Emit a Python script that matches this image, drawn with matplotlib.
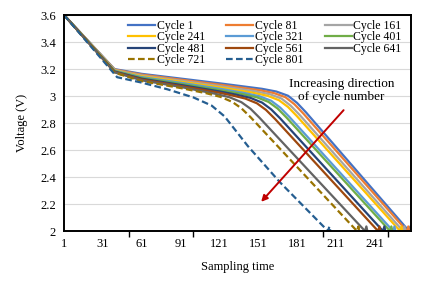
import matplotlib
matplotlib.use("Agg")
import matplotlib.pyplot as plt

# data (key points of each discharge curve)
labels = ["Cycle 1", "Cycle 81", "Cycle 161", "Cycle 241", "Cycle 321", "Cycle 401",
          "Cycle 481", "Cycle 561", "Cycle 641", "Cycle 721", "Cycle 801"]
colors = ["#4472C4", "#ED7D31", "#A5A5A5", "#FFC000", "#5B9BD5", "#70AD47",
          "#264478", "#9E480E", "#636363", "#997300", "#255E91"]
styles = ["-"] * 9 + ["--", "--"]

xs = [
    [1, 40, 61, 91, 121, 154, 165, 174, 181, 188, 267.6, 268.6, 269.6],
    [1, 40, 61, 91, 121, 152, 163, 172, 179, 186, 266.0, 267.0, 268.0],
    [1, 40, 61, 91, 121, 149, 160, 169, 176, 183, 263.0, 264.0, 265.0],
    [1, 40, 61, 91, 121, 147, 158, 167, 174, 181, 260.7, 261.7, 262.7],
    [1, 40, 61, 91, 121, 141, 152, 161, 168, 175, 255.3, 256.3, 257.3],
    [1, 40, 61, 91, 121, 139, 150, 159, 166, 173, 252.9, 253.9, 254.9],
    [1, 40, 61, 91, 121, 134, 145, 154, 161, 168, 247.5, 248.5, 249.5],
    [1, 40, 61, 91, 121, 130, 141, 150, 157, 164, 243.7, 244.7, 245.7],
    [1, 40, 61, 91, 118, 129, 138, 145, 152, 233.6, 234.6, 235.6],
    [1, 40, 61, 91, 111, 122, 131, 138, 145, 227.4, 228.4, 229.4],
    [1, 42, 61, 81, 101, 115, 125, 143, 168, 205, 206, 207],
]
ys = [
    [3.6, 3.200, 3.165, 3.130, 3.095, 3.054, 3.034, 3.003, 2.950, 2.879, 2.0, 2.035, 1.99],
    [3.6, 3.197, 3.159, 3.122, 3.085, 3.044, 3.023, 2.992, 2.940, 2.870, 2.0, 2.035, 1.99],
    [3.6, 3.194, 3.153, 3.114, 3.075, 3.035, 3.014, 2.982, 2.930, 2.861, 2.0, 2.035, 1.99],
    [3.6, 3.191, 3.147, 3.107, 3.065, 3.025, 3.003, 2.970, 2.920, 2.851, 2.0, 2.035, 1.99],
    [3.6, 3.188, 3.141, 3.099, 3.055, 3.022, 2.999, 2.966, 2.915, 2.847, 2.0, 2.035, 1.99],
    [3.6, 3.185, 3.135, 3.091, 3.045, 3.015, 2.991, 2.957, 2.908, 2.840, 2.0, 2.035, 1.99],
    [3.6, 3.182, 3.129, 3.083, 3.035, 3.011, 2.987, 2.952, 2.902, 2.835, 2.0, 2.035, 1.99],
    [3.6, 3.179, 3.123, 3.075, 3.025, 3.007, 2.982, 2.947, 2.898, 2.831, 2.0, 2.035, 1.99],
    [3.6, 3.176, 3.117, 3.068, 3.017, 2.991, 2.955, 2.907, 2.840, 2.0, 2.035, 1.99],
    [3.6, 3.173, 3.111, 3.060, 3.021, 2.994, 2.957, 2.910, 2.845, 2.0, 2.035, 1.99],
    [3.6, 3.14, 3.10, 3.05, 2.99, 2.93, 2.85, 2.63, 2.36, 2.0, 2.035, 1.99],
]

xticklabels = [1, 31, 61, 91, 121, 151, 181, 211, 241]

plt.rcParams['font.family'] = ['Liberation Serif', 'DejaVu Serif']

fig = plt.figure(figsize=(4.36, 2.85), dpi=100)
ax = fig.add_axes([0.147, 0.189, 0.796, 0.758])

lines = []
for i in range(len(labels)):
    ln, = ax.plot(xs[i], ys[i], color=colors[i], ls=styles[i], lw=1.6,
                  label=labels[i], solid_joinstyle='round')
    if styles[i] == "--":
        ln.set_dashes((3, 1.5))
    lines.append(ln)

ax.set_xlim(1, 269.2)
ax.set_ylim(2, 3.6)
ax.set_yticks([2, 2.2, 2.4, 2.6, 2.8, 3, 3.2, 3.4, 3.6])
ax.set_yticklabels(["2", "2.2", "2.4", "2.6", "2.8", "3", "3.2", "3.4", "3.6"])
ax.set_xticks(xticklabels)
ax.set_xticks([1, 51, 101, 151, 201, 251], minor=True)
ax.tick_params(axis='x', which='major', length=0, labelsize=9, pad=5)
ax.tick_params(axis='x', which='minor', length=4, width=1, direction='out')
ax.tick_params(axis='y', length=0, labelsize=9, pad=6)
ax.grid(axis='y', color='#D9D9D9', lw=0.8)
ax.set_axisbelow(True)
for s in ax.spines.values():
    s.set_linewidth(1.4)
    s.set_color('black')

ax.set_xlabel("Sampling time", fontsize=9, labelpad=8)
ax.set_ylabel("Voltage (V)", fontsize=9, labelpad=9)

# legend filled row by row like the original
order = [0, 3, 6, 9, 1, 4, 7, 10, 2, 5, 8]
ax.legend([lines[k] for k in order], [labels[k] for k in order], ncol=3,
          loc='upper left', bbox_to_anchor=(0.183, 0.977), frameon=False,
          fontsize=8.5, handlelength=2.3, handletextpad=0.15, columnspacing=1.8,
          labelspacing=-0.05, borderaxespad=0, borderpad=0)

ax.annotate("", xy=(153.3, 2.217), xytext=(217, 2.896),
            arrowprops=dict(arrowstyle='-|>', color='#C00000', lw=1.4,
                            mutation_scale=9, shrinkA=0, shrinkB=0))
ax.text(215.5, 3.04, "Increasing direction\nof cycle number", ha='center',
        va='center', fontsize=9.5, linespacing=1.05)

fig.savefig("out.png", dpi=100)
